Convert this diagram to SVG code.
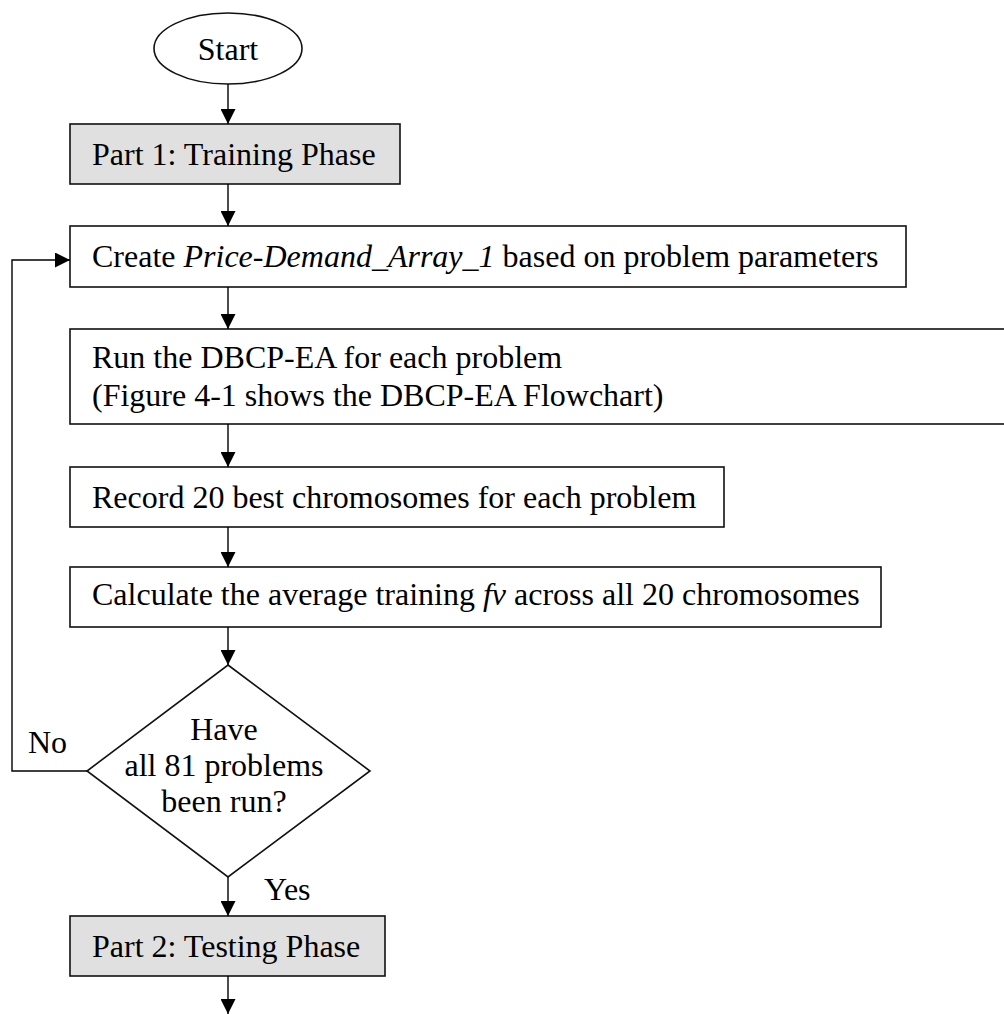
<svg xmlns="http://www.w3.org/2000/svg" width="1004" height="1014" viewBox="0 0 1004 1014">
<defs>
<marker id="arr" markerUnits="userSpaceOnUse" markerWidth="15" markerHeight="15" refX="15" refY="7.5" orient="auto">
<path d="M0,0 L15,7.5 L0,15 z" fill="#000"/>
</marker>
<style>
.box{fill:#fff;stroke:#111;stroke-width:1.6}
.grey{fill:#e0e0e0}
.t{font-family:"Liberation Serif","Times New Roman",serif;font-size:32px;fill:#000}
.c{stroke:#000;stroke-width:1.4;fill:none}
</style>
</defs>
<rect width="1004" height="1014" fill="#fff"/>
<g id="start">
<ellipse class="box" cx="228" cy="48.5" rx="74" ry="35.5"/>
<text class="t" x="228" y="60" text-anchor="middle">Start</text>
</g>
<g id="part1">
<rect class="box grey" x="70" y="124" width="330" height="60"/>
<text class="t" x="92" y="165">Part 1: Training Phase</text>
</g>
<g id="create">
<rect class="box" x="70" y="226" width="836" height="61"/>
<text class="t" x="92" y="267">Create <tspan font-style="italic">Price-Demand_Array_1</tspan> based on problem parameters</text>
</g>
<g id="run">
<rect class="box" x="70" y="329" width="945" height="95"/>
<text class="t" x="92" y="368">Run the DBCP-EA for each problem</text>
<text class="t" x="92" y="406">(Figure 4-1 shows the DBCP-EA Flowchart)</text>
</g>
<g id="record">
<rect class="box" x="70" y="467" width="654" height="60"/>
<text class="t" x="92" y="508">Record 20 best chromosomes for each problem</text>
</g>
<g id="calc">
<rect class="box" x="70" y="567" width="811" height="60"/>
<text class="t" x="92" y="605">Calculate the average training <tspan font-style="italic">fv</tspan> across all 20 chromosomes</text>
</g>
<g id="decision">
<polygon class="box" points="228,665 370,771 228,877 87,771"/>
<text class="t" x="224" y="740" text-anchor="middle">Have</text>
<text class="t" x="224" y="776" text-anchor="middle">all 81 problems</text>
<text class="t" x="224" y="812" text-anchor="middle">been run?</text>
</g>
<g id="part2">
<rect class="box grey" x="70" y="916" width="315" height="60"/>
<text class="t" x="92" y="957">Part 2: Testing Phase</text>
</g>
<g id="connectors">
<line class="c" x1="228" y1="84" x2="228" y2="124" marker-end="url(#arr)"/>
<line class="c" x1="228" y1="184" x2="228" y2="226" marker-end="url(#arr)"/>
<line class="c" x1="228" y1="287" x2="228" y2="329" marker-end="url(#arr)"/>
<line class="c" x1="228" y1="424" x2="228" y2="467" marker-end="url(#arr)"/>
<line class="c" x1="228" y1="527" x2="228" y2="567" marker-end="url(#arr)"/>
<line class="c" x1="228" y1="627" x2="228" y2="665" marker-end="url(#arr)"/>
<line class="c" x1="228" y1="877" x2="228" y2="916" marker-end="url(#arr)"/>
<line class="c" x1="228" y1="976" x2="228" y2="1014" marker-end="url(#arr)"/>
<polyline class="c" points="87,771 12,771 12,260 70,260" marker-end="url(#arr)"/>
<text class="t" x="28" y="753">No</text>
<text class="t" x="264" y="900">Yes</text>
</g>
</svg>
